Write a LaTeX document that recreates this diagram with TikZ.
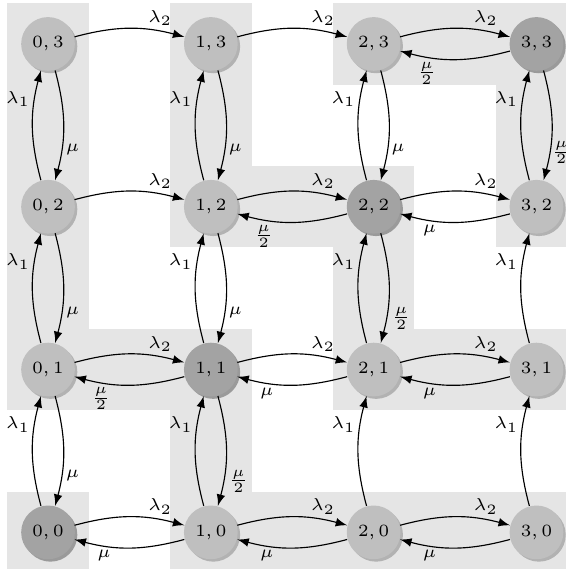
\documentclass[tikz,border=0pt]{standalone}
\usetikzlibrary{shadows,arrows}

\begin{document}
\begin{tikzpicture}[>=latex, font=\fontsize{6.5}{8}\selectfont,
  state/.style={circle, minimum size=0.66cm, inner sep=0pt},
  idle/.style={state, fill=gray!50,
    drop shadow={shadow xshift=0.03cm, shadow yshift=-0.03cm, opacity=1, fill=gray!60}},
  busy/.style={state, fill=gray!72,
    drop shadow={shadow xshift=0.03cm, shadow yshift=-0.03cm, opacity=1, fill=gray!79}},
  region/.style={fill=gray!20},
  trans/.style={->, bend left=15},
  lbl/.style={auto, pos=.65, inner sep=1pt}]
\useasboundingbox (-0.59,-0.45) rectangle (6.36,6.54);
\clip (-0.59,-0.45) rectangle (6.36,6.54);

% grey blocks behind the states
\fill[region] (-0.5,-0.5) rectangle (0.5,0.5);
\fill[region] (-0.5,1.5) rectangle (0.5,6.5);
\fill[region] (-0.5,1.5) rectangle (2.5,2.5);
\fill[region] (1.5,-0.5) rectangle (2.5,2.5);
\fill[region] (1.5,-0.5) rectangle (6.5,0.5);
\fill[region] (1.5,3.5) rectangle (2.5,6.5);
\fill[region] (1.5,3.5) rectangle (4.5,4.5);
\fill[region] (3.5,1.5) rectangle (4.5,4.5);
\fill[region] (3.5,1.5) rectangle (6.5,2.5);
\fill[region] (3.5,5.5) rectangle (6.5,6.5);
\fill[region] (5.5,3.5) rectangle (6.5,6.5);

% states
\node[busy] (n00) at (0,0) {$0,0$};
\node[idle] (n10) at (2,0) {$1,0$};
\node[idle] (n20) at (4,0) {$2,0$};
\node[idle] (n30) at (6,0) {$3,0$};
\node[idle] (n01) at (0,2) {$0,1$};
\node[busy] (n11) at (2,2) {$1,1$};
\node[idle] (n21) at (4,2) {$2,1$};
\node[idle] (n31) at (6,2) {$3,1$};
\node[idle] (n02) at (0,4) {$0,2$};
\node[idle] (n12) at (2,4) {$1,2$};
\node[busy] (n22) at (4,4) {$2,2$};
\node[idle] (n32) at (6,4) {$3,2$};
\node[idle] (n03) at (0,6) {$0,3$};
\node[idle] (n13) at (2,6) {$1,3$};
\node[idle] (n23) at (4,6) {$2,3$};
\node[busy] (n33) at (6,6) {$3,3$};

% row 0
\draw[trans] (n00) to node[lbl]{$\lambda_2$} (n10);
\draw[trans] (n10) to node[lbl]{$\mu$} (n00);
\draw[trans] (n10) to node[lbl]{$\lambda_2$} (n20);
\draw[trans] (n20) to node[lbl]{$\mu$} (n10);
\draw[trans] (n20) to node[lbl]{$\lambda_2$} (n30);
\draw[trans] (n30) to node[lbl]{$\mu$} (n20);
% row 1
\draw[trans] (n01) to node[lbl]{$\lambda_2$} (n11);
\draw[trans] (n11) to node[lbl]{$\frac{\mu}{2}$} (n01);
\draw[trans] (n11) to node[lbl]{$\lambda_2$} (n21);
\draw[trans] (n21) to node[lbl]{$\mu$} (n11);
\draw[trans] (n21) to node[lbl]{$\lambda_2$} (n31);
\draw[trans] (n31) to node[lbl]{$\mu$} (n21);
% row 2
\draw[trans] (n02) to node[lbl]{$\lambda_2$} (n12);
\draw[trans] (n12) to node[lbl]{$\lambda_2$} (n22);
\draw[trans] (n22) to node[lbl]{$\frac{\mu}{2}$} (n12);
\draw[trans] (n22) to node[lbl]{$\lambda_2$} (n32);
\draw[trans] (n32) to node[lbl]{$\mu$} (n22);
% row 3
\draw[trans] (n03) to node[lbl]{$\lambda_2$} (n13);
\draw[trans] (n13) to node[lbl]{$\lambda_2$} (n23);
\draw[trans] (n23) to node[lbl]{$\lambda_2$} (n33);
\draw[trans] (n33) to node[lbl]{$\frac{\mu}{2}$} (n23);

% column 0
\draw[trans] (n00) to node[lbl]{$\lambda_1$} (n01);
\draw[trans] (n01) to node[lbl]{$\mu$} (n00);
\draw[trans] (n01) to node[lbl]{$\lambda_1$} (n02);
\draw[trans] (n02) to node[lbl]{$\mu$} (n01);
\draw[trans] (n02) to node[lbl]{$\lambda_1$} (n03);
\draw[trans] (n03) to node[lbl]{$\mu$} (n02);
% column 1
\draw[trans] (n10) to node[lbl]{$\lambda_1$} (n11);
\draw[trans] (n11) to node[lbl]{$\frac{\mu}{2}$} (n10);
\draw[trans] (n11) to node[lbl]{$\lambda_1$} (n12);
\draw[trans] (n12) to node[lbl]{$\mu$} (n11);
\draw[trans] (n12) to node[lbl]{$\lambda_1$} (n13);
\draw[trans] (n13) to node[lbl]{$\mu$} (n12);
% column 2
\draw[trans] (n20) to node[lbl]{$\lambda_1$} (n21);
\draw[trans] (n21) to node[lbl]{$\lambda_1$} (n22);
\draw[trans] (n22) to node[lbl]{$\frac{\mu}{2}$} (n21);
\draw[trans] (n22) to node[lbl]{$\lambda_1$} (n23);
\draw[trans] (n23) to node[lbl]{$\mu$} (n22);
% column 3
\draw[trans] (n30) to node[lbl]{$\lambda_1$} (n31);
\draw[trans] (n31) to node[lbl]{$\lambda_1$} (n32);
\draw[trans] (n32) to node[lbl]{$\lambda_1$} (n33);
\draw[trans] (n33) to node[lbl, inner sep=0pt]{$\frac{\mu}{2}$} (n32);
\end{tikzpicture}
\end{document}
